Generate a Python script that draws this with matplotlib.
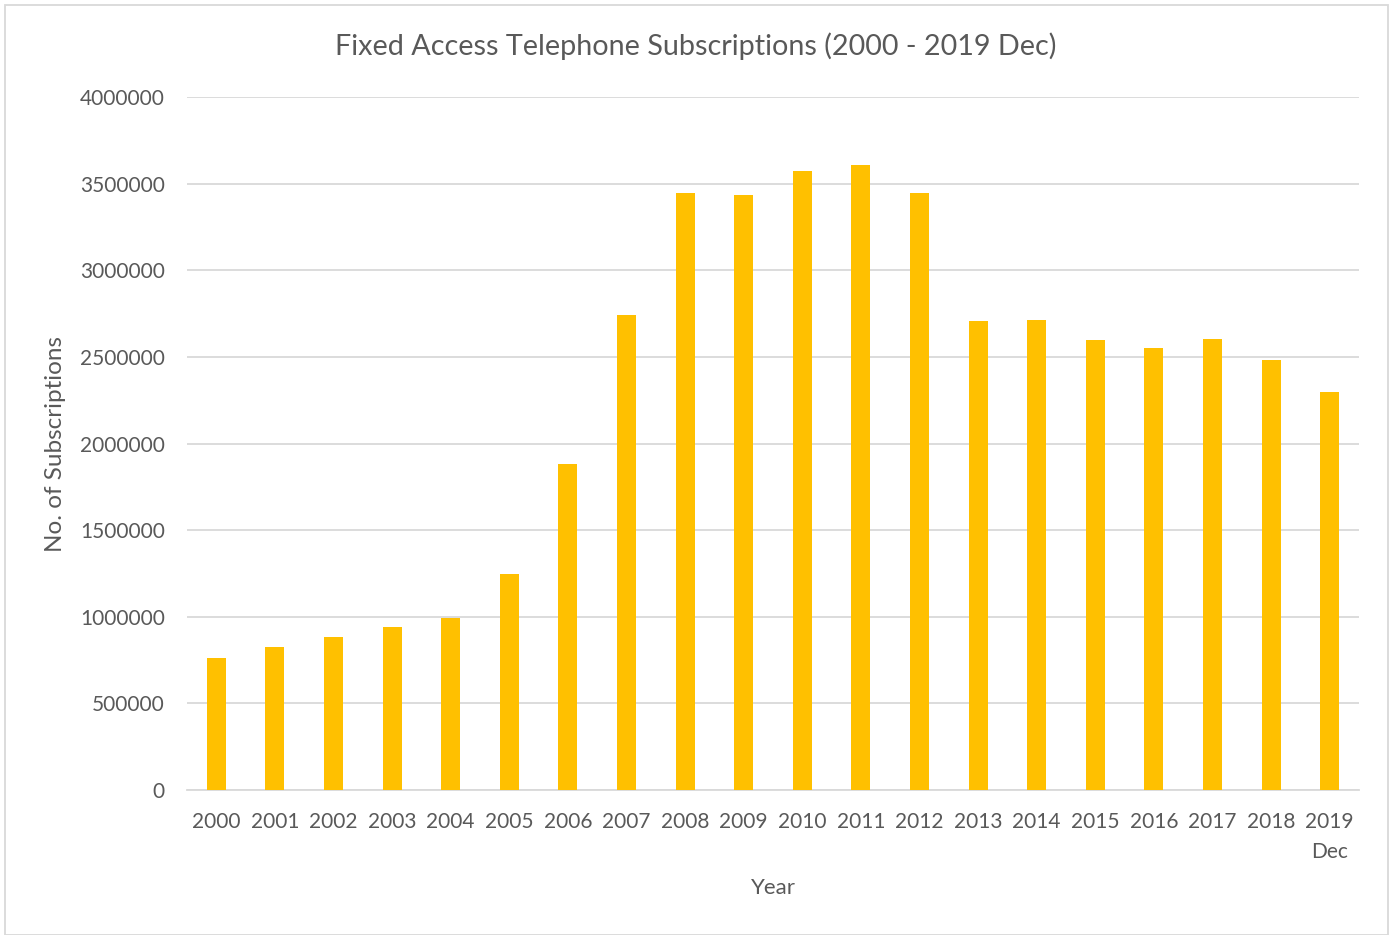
import matplotlib.pyplot as plt
from matplotlib.patches import Rectangle

# Data
years = ['2000', '2001', '2002', '2003', '2004', '2005', '2006', '2007', '2008', '2009',
         '2010', '2011', '2012', '2013', '2014', '2015', '2016', '2017', '2018', '2019\nDec']
subscriptions = [764000, 824000, 882000, 938000, 990000, 1245000, 1882000, 2742000, 3444000, 3433000,
                 3575000, 3608000, 3448000, 2706000, 2710000, 2600000, 2550000, 2602000, 2483000, 2298000]
y_ticks = [0, 500000, 1000000, 1500000, 2000000, 2500000, 3000000, 3500000, 4000000]

plt.rcParams['font.family'] = ['Lato', 'DejaVu Sans']
text_col = '#595959'
grid_col = '#D9D9D9'

fig = plt.figure(figsize=(13.94, 9.35), dpi=100)
ax = fig.add_axes([187 / 1394, 1 - 790 / 935, (1359 - 187) / 1394, (790 - 97) / 935])

x = range(len(years))
ax.bar(x, subscriptions, width=0.325, color='#FFC000', zorder=3)

ax.set_xlim(-0.5, len(years) - 0.5)
ax.set_ylim(0, 4000000)
ax.set_yticks(y_ticks)
ax.set_yticklabels([str(v) for v in y_ticks])
ax.set_xticks(list(x))
ax.set_xticklabels(years, linespacing=1.6, va='top')

ax.grid(axis='y', color=grid_col, linewidth=1.3, zorder=0)
for s in ['top', 'right', 'left']:
    ax.spines[s].set_visible(False)
ax.spines['bottom'].set_color(grid_col)
ax.spines['bottom'].set_linewidth(1.3)
ax.tick_params(axis='both', length=0, labelsize=15, labelcolor=text_col)
ax.tick_params(axis='x', pad=16)
ax.tick_params(axis='y', pad=16)

ax.set_xlabel('Year', fontsize=16, color=text_col, labelpad=12)
ax.set_ylabel('No. of Subscriptions', fontsize=17.5, color=text_col, labelpad=10)
fig.text(696 / 1394, 1 - 46 / 935, 'Fixed Access Telephone Subscriptions (2000 - 2019 Dec)',
         ha='center', va='center', fontsize=20.7, color=text_col)

# chart border
fig.patches.append(Rectangle((5 / 1394, 0), 1383 / 1394, 930 / 935, transform=fig.transFigure,
                             fill=False, edgecolor=grid_col, linewidth=1.3))

fig.savefig('out.png', dpi=100)
